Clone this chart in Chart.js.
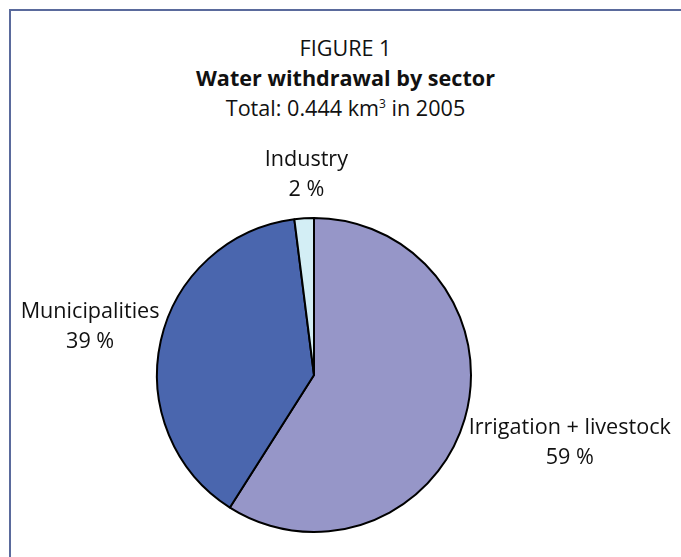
<!DOCTYPE html>
<html>
<head>
<meta charset="utf-8">
<script src="https://cdn.jsdelivr.net/npm/chart.js@4/dist/chart.umd.min.js"></script>
<style>
  html, body { margin: 0; padding: 0; background: #ffffff; overflow: hidden; }
  #page { position: relative; width: 681px; height: 557px; }
  #frame {
    position: absolute; left: 9px; top: 9px; width: 800px; height: 700px;
    border-top: 2px solid #5a6a9c; border-left: 2px solid #5a6a9c;
  }
  #heading {
    position: absolute; left: 0; width: 691px; top: 33px; text-align: center;
    font-family: "Open Sans", sans-serif; font-size: 21.6px; line-height: 30px; color: #111;
  }
  #heading .bold { font-weight: bold; }
  #heading sup { font-size: 12px; vertical-align: 8px; line-height: 0; }
  canvas { position: absolute; left: 0; top: 0; }
</style>
</head>
<body>
<div id="page">
  <div id="frame"></div>
  <div id="heading">
    <div>FIGURE 1</div>
    <div class="bold">Water withdrawal by sector</div>
    <div>Total: 0.444 km<sup>3</sup> in 2005</div>
  </div>
  <canvas id="chart" width="681" height="557"></canvas>
</div>
<script>
// Sector shares of total water withdrawal (%)
const sectors = ['Irrigation + livestock', 'Municipalities', 'Industry'];
const shares = [59, 39, 2];
const sectorColors = ['#9696c8', '#4a66ae', '#d3eef5'];

const FONT = '21.6px "Open Sans", sans-serif';
const LINE = 30;

// Draws "<name>" and "<share> %" outside each slice, pushed away from the centre
const outsideLabels = {
  id: 'outsideLabels',
  afterDatasetsDraw(chart) {
    const ctx = chart.ctx;
    const meta = chart.getDatasetMeta(0);
    ctx.save();
    ctx.font = FONT;
    ctx.fillStyle = '#111';
    ctx.textAlign = 'center';
    ctx.textBaseline = 'middle';
    meta.data.forEach((arc, i) => {
      const p = arc.getProps(['x', 'y', 'startAngle', 'endAngle', 'outerRadius'], true);
      const mid = (p.startAngle + p.endAngle) / 2;
      const cos = Math.cos(mid), sin = Math.sin(mid);
      const lines = [sectors[i], shares[i] + ' %'];
      const w = Math.max(...lines.map(t => ctx.measureText(t).width));
      const h = LINE * lines.length;
      const r = p.outerRadius + 3;
      const nudgeX = cos < -0.5 ? 0 : 5;
      const nudgeY = Math.abs(sin) > 0.7 ? Math.sign(sin) * 11 : 4 + Math.sign(sin) * 11;
      const cx = p.x + r * cos + cos * w / 2 + nudgeX;
      const cy = p.y + r * sin + sin * h / 2 + nudgeY;
      lines.forEach((t, k) => {
        ctx.fillText(t, cx, cy - h / 2 + LINE / 2 + k * LINE);
      });
    });
    ctx.restore();
  }
};

new Chart(document.getElementById('chart'), {
  type: 'pie',
  data: {
    labels: sectors,
    datasets: [{
      data: shares,
      backgroundColor: sectorColors,
      borderColor: '#000000',
      borderWidth: 2,
      borderAlign: 'center'
    }]
  },
  options: {
    responsive: false,
    devicePixelRatio: 1,
    animation: false,
    layout: { padding: { left: 156, right: 209, top: 217, bottom: 24 } },
    plugins: {
      legend: { display: false },
      title: { display: false },
      tooltip: { enabled: false }
    }
  },
  plugins: [outsideLabels]
});
</script>
</body>
</html>
